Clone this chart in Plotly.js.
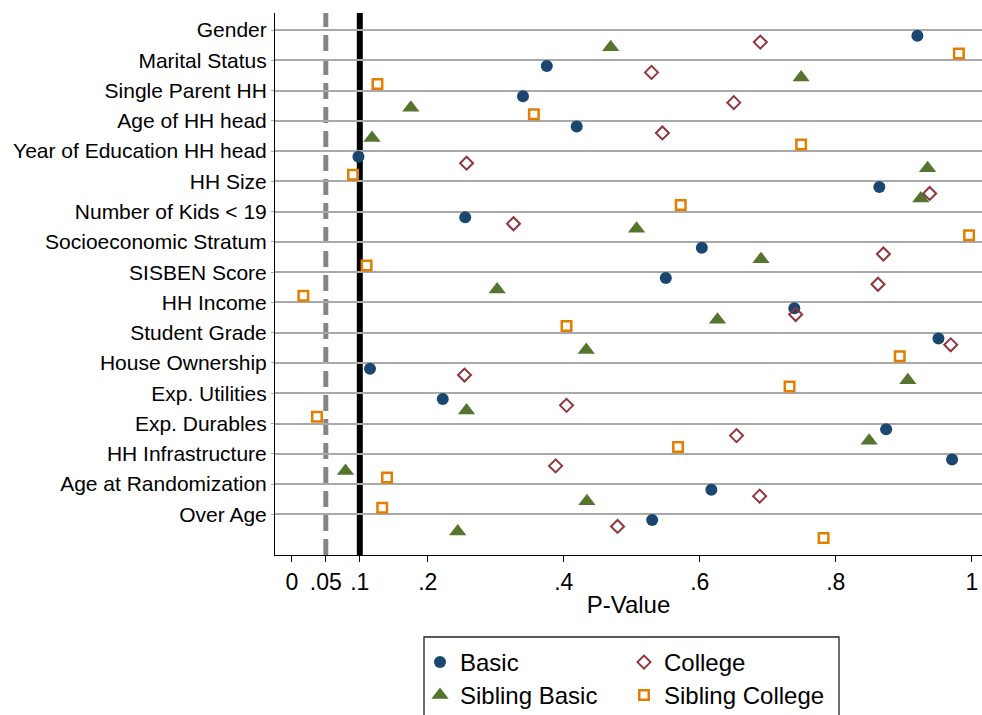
<!DOCTYPE html>
<html>
<head>
<meta charset="utf-8">
<script src="https://cdn.plot.ly/plotly-3.0.1.min.js"></script>
<style>
  html, body { margin: 0; padding: 0; background: #fff; }
  #chart { width: 982px; height: 715px; }
</style>
</head>
<body>
<div id="chart"></div>
<script>
// Covariate names (top to bottom)
const variables = [
  "Gender", "Marital Status", "Single Parent HH", "Age of HH head",
  "Year of Education HH head", "HH Size", "Number of Kids < 19",
  "Socioeconomic Stratum", "SISBEN Score", "HH Income", "Student Grade",
  "House Ownership", "Exp. Utilities", "Exp. Durables", "HH Infrastructure",
  "Age at Randomization", "Over Age"
];

// P-values
const basic = [0.920, 0.375, 0.340, 0.419, 0.098, 0.864, 0.255, 0.603, 0.550,
  0.739, 0.951, 0.115, 0.222, 0.874, 0.971, 0.617, 0.530];
const college = [0.689, 0.529, 0.650, 0.545, 0.257, 0.938, 0.326, 0.870, 0.862,
  0.741, 0.969, 0.254, 0.404, 0.654, 0.388, 0.688, 0.479];
const siblingBasic = [0.469, 0.749, 0.175, 0.118, 0.935, 0.925, 0.507, 0.690, 0.302,
  0.626, 0.433, 0.906, 0.257, 0.849, 0.079, 0.434, 0.244];
const siblingCollege = [0.981, 0.126, 0.356, 0.749, 0.090, 0.572, 0.996, 0.110, 0.017,
  0.404, 0.894, 0.732, 0.037, 0.568, 0.140, 0.133, 0.782];

const xTickVals = [0, 0.05, 0.1, 0.2, 0.4, 0.6, 0.8, 1];
const xTickText = ["0", ".05", ".1", ".2", ".4", ".6", ".8", "1"];
const thresholds = [0.05, 0.1];

// vertical dodge within each row (in row units)
const dodge = { basic: 0.19, college: 0.40, sibBasic: 0.57, sibCollege: 0.78 };
const idx = variables.map((_, i) => i);

const FONT = "Liberation Sans, Arial, sans-serif";

function mk(name, vals, off, marker, legend) {
  return {
    type: "scatter", mode: "markers", name: name,
    x: vals, y: idx.map(i => i + off),
    marker: marker, legend: legend, hoverinfo: "x+name",
    cliponaxis: false
  };
}

const traces = [
  mk("Basic", basic, dodge.basic,
     { symbol: "circle", size: 12, color: "#1a476f" }, "legend"),
  mk("College", college, dodge.college,
     { symbol: "diamond-open", size: 10, color: "#90353b", line: { width: 2, color: "#90353b" } }, "legend"),
  mk("Sibling Basic", siblingBasic, dodge.sibBasic,
     { symbol: "triangle-up", size: 15, color: "#55752f" }, "legend2"),
  mk("Sibling College", siblingCollege, dodge.sibCollege,
     { symbol: "square-open", size: 9.5, color: "#e37e00", line: { width: 2.5, color: "#e37e00" } }, "legend2")
];

const legendCommon = {
  orientation: "h", xref: "container", yref: "container",
  xanchor: "left", yanchor: "top",
  entrywidth: 159, entrywidthmode: "pixels",
  bgcolor: "rgba(0,0,0,0)", borderwidth: 0,
  font: { family: FONT, size: 24, color: "#000" },
  itemclick: false, itemdoubleclick: false
};

const layout = {
  width: 982, height: 715,
  margin: { l: 275, r: 0, t: 13, b: 160 },
  paper_bgcolor: "#fff", plot_bgcolor: "#fff",
  font: { family: FONT, color: "#000" },
  showlegend: true,
  xaxis: {
    range: [-0.0247, 1.015],
    tickmode: "array", tickvals: xTickVals, ticktext: xTickText,
    showgrid: false, zeroline: false,
    showline: true, linecolor: "#000", linewidth: 1,
    ticks: "outside", ticklen: 6, tickcolor: "#000", tickwidth: 1,
    tickfont: { family: FONT, size: 23, color: "#000" },
    title: { text: "P-Value", font: { family: FONT, size: 24, color: "#000" }, standoff: 2 }
  },
  yaxis: {
    range: [17.344, -0.5616],
    tickmode: "array", tickvals: idx, ticktext: variables,
    showgrid: true, gridcolor: "#a9a9a9", gridwidth: 2,
    zeroline: false, showline: true, linecolor: "#000", linewidth: 1,
    ticks: "outside", ticklen: 3, tickcolor: "#a9a9a9",
    tickfont: { family: FONT, size: 21, color: "#000" }
  },
  shapes: [
    { type: "line", xref: "x", yref: "paper", x0: thresholds[0], x1: thresholds[0], y0: 0, y1: 1,
      line: { color: "#858585", width: 5, dash: "16px,8px" }, layer: "below" },
    { type: "line", xref: "x", yref: "paper", x0: thresholds[1], x1: thresholds[1], y0: 0, y1: 1,
      line: { color: "#000", width: 6 }, layer: "below" },
    { type: "rect", xref: "paper", yref: "paper",
      x0: (424 - 275) / 707, x1: (839 - 275) / 707,
      y0: (555 - 637) / 542, y1: (555 - 760) / 542,
      line: { color: "#222", width: 1.3 }, fillcolor: "rgba(0,0,0,0)" }
  ],
  legend: Object.assign({}, legendCommon, { x: 420 / 982, y: 1 - 640 / 715 }),
  legend2: Object.assign({}, legendCommon, { x: 420 / 982, y: 1 - 673 / 715 })
};

Plotly.newPlot("chart", traces, layout, { displayModeBar: false, staticPlot: true });
</script>
</body>
</html>
